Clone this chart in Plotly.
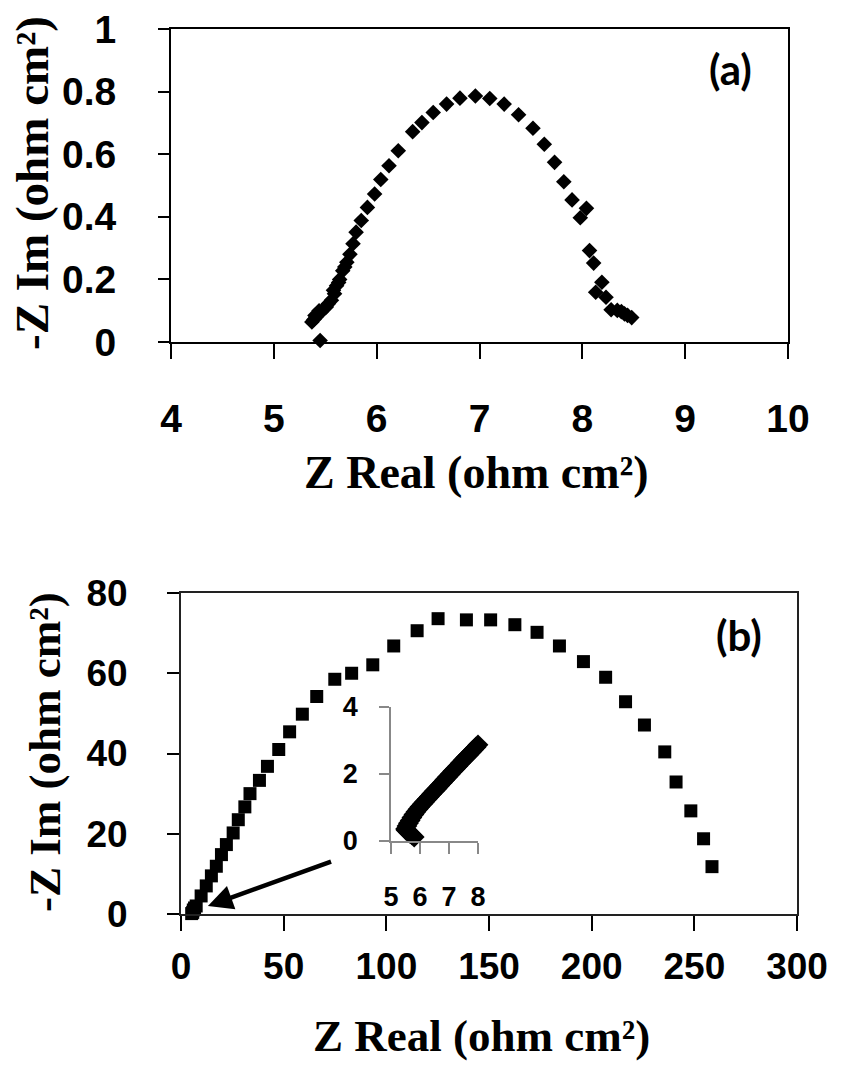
import plotly.graph_objects as go

# ---------------- Panel (a) data ----------------
a_zreal = [5.45, 5.37, 5.39, 5.40, 5.41, 5.43, 5.44, 5.46, 5.48, 5.51, 5.53, 5.56, 5.58,
           5.59, 5.61, 5.63, 5.64, 5.67, 5.69, 5.71, 5.74, 5.77, 5.80, 5.85, 5.91, 5.98,
           6.04, 6.12, 6.21, 6.35, 6.44, 6.55, 6.68, 6.81, 6.96, 7.10, 7.24, 7.38, 7.52,
           7.63, 7.73, 7.82, 7.90, 8.04, 7.98, 8.07, 8.11, 8.19, 8.13, 8.23, 8.28, 8.34,
           8.38, 8.41, 8.44, 8.48]
a_zim = [0.005, 0.064, 0.072, 0.085, 0.080, 0.088, 0.100, 0.096, 0.104, 0.112, 0.122, 0.133, 0.165,
         0.154, 0.180, 0.190, 0.200, 0.228, 0.240, 0.255, 0.280, 0.314, 0.351, 0.388, 0.430, 0.473,
         0.519, 0.563, 0.611, 0.672, 0.701, 0.733, 0.760, 0.779, 0.786, 0.778, 0.760, 0.726, 0.683,
         0.632, 0.574, 0.512, 0.454, 0.427, 0.397, 0.292, 0.252, 0.191, 0.159, 0.143, 0.103, 0.101,
         0.097, 0.090, 0.085, 0.078]

# ---------------- Panel (b) data ----------------
b_zreal = [5.2, 5.7, 6.0, 6.6, 7.4, 9.8, 12.3, 14.8, 17.2, 19.7, 22.1, 25.4, 27.9, 31.1, 33.6,
           38.2, 42.1, 47.6, 52.9, 59.1, 66.1, 74.9, 83.1, 93.4, 103.6, 115.0, 125.2, 139.0,
           150.8, 162.6, 173.4, 184.3, 196.0, 206.8, 216.5, 225.7, 235.6, 241.1, 248.3, 254.5,
           258.6]
b_zim = [0.1, 0.4, 1.0, 1.5, 2.0, 4.5, 7.0, 9.5, 11.9, 14.8, 17.3, 20.2, 23.5, 26.7, 30.0,
         33.3, 36.8, 41.0, 45.4, 49.8, 54.2, 58.5, 60.0, 62.1, 66.8, 70.6, 73.6, 73.3,
         73.3, 72.1, 70.2, 66.8, 62.9, 59.0, 52.9, 47.1, 40.4, 32.9, 25.7, 18.75,
         11.8]

# ---------------- Inset data (high-frequency region of b) ----------------
inset_zreal = [5.80, 5.72, 5.65, 5.58, 5.52, 5.50, 5.55, 5.60, 5.66, 5.72, 5.79, 5.86, 5.93,
               6.00, 6.08, 6.16, 6.24, 6.32, 6.41, 6.50, 6.59, 6.68, 6.77, 6.86, 6.95, 7.04,
               7.13, 7.22, 7.31, 7.40, 7.49, 7.58, 7.67, 7.76, 7.85, 7.93, 8.00]
inset_zim = [0.12, 0.18, 0.23, 0.28, 0.32, 0.36, 0.45, 0.53, 0.61, 0.70, 0.79, 0.87, 0.95,
             1.02, 1.10, 1.17, 1.25, 1.32, 1.41, 1.49, 1.57, 1.66, 1.74, 1.83, 1.91, 1.99,
             2.08, 2.16, 2.24, 2.33, 2.41, 2.49, 2.57, 2.65, 2.73, 2.80, 2.87]

a_xticks = [4, 5, 6, 7, 8, 9, 10]
a_yticks = [0, 0.2, 0.4, 0.6, 0.8, 1]
b_xticks = [0, 50, 100, 150, 200, 250, 300]
b_yticks = [0, 20, 40, 60, 80]
in_xticks = [5, 6, 7, 8]
in_yticks = [0, 2, 4]

W, H = 841, 1065
def px_x(p):
    return p / W
def px_y(p):
    return (H - p) / H

SANS = "Liberation Sans, Arial, sans-serif"
SERIF = "Liberation Serif, Times New Roman, serif"

fig = go.Figure()
fig.add_trace(go.Scatter(x=a_zreal, y=a_zim, mode="markers", xaxis="x", yaxis="y",
                         marker=dict(symbol="diamond", size=12, color="black"),
                         cliponaxis=False, showlegend=False))
fig.add_trace(go.Scatter(x=b_zreal, y=b_zim, mode="markers", xaxis="x2", yaxis="y2",
                         marker=dict(symbol="square", size=13, color="black"),
                         cliponaxis=False, showlegend=False))
fig.add_trace(go.Scatter(x=inset_zreal, y=inset_zim, mode="markers", xaxis="x3", yaxis="y3",
                         marker=dict(symbol="diamond", size=16, color="black"),
                         cliponaxis=False, showlegend=False))

main_tickfont_a = dict(family=SANS, size=39, color="black", weight="bold")
main_tickfont_b = dict(family=SANS, size=37, color="black", weight="bold")
inset_font = dict(family=SANS, size=27, color="black", weight="bold")

common = dict(showgrid=False, zeroline=False, automargin=False)

fig.update_layout(
    template="none",
    width=W, height=H,
    margin=dict(l=0, r=0, t=0, b=0, pad=0),
    paper_bgcolor="white", plot_bgcolor="white",
    xaxis=dict(domain=[px_x(171), px_x(788)], range=[4, 10], anchor="y",
               tickvals=a_xticks, ticks="outside", ticklen=15, tickwidth=2, tickcolor="black",
               showline=True, mirror=True, linecolor="black", linewidth=2,
               tickfont=main_tickfont_a, ticklabelstandoff=26, **common),
    yaxis=dict(domain=[px_y(342), px_y(29)], range=[0, 1], anchor="x",
               tickvals=a_yticks, ticks="outside", ticklen=11, tickwidth=2, tickcolor="black",
               showline=True, mirror=True, linecolor="black", linewidth=2,
               tickfont=main_tickfont_a, ticklabelstandoff=34, **common),
    xaxis2=dict(domain=[px_x(181), px_x(797)], range=[0, 300], anchor="y2",
                tickvals=b_xticks, ticks="outside", ticklen=15, tickwidth=2, tickcolor="black",
                showline=True, mirror=True, linecolor="#222", linewidth=2,
                tickfont=main_tickfont_b, ticklabelstandoff=4, **common),
    yaxis2=dict(domain=[px_y(914), px_y(593)], range=[0, 80], anchor="x2",
                tickvals=b_yticks, ticks="outside", ticklen=12, tickwidth=2, tickcolor="black",
                showline=True, mirror=True, linecolor="#222", linewidth=2,
                tickfont=main_tickfont_b, ticklabelstandoff=32, **common),
    xaxis3=dict(domain=[px_x(391), px_x(478)], range=[5, 8], anchor="y3",
                tickvals=in_xticks, ticks="outside", ticklen=11, tickwidth=1.5, tickcolor="#888",
                showline=True, mirror=False, linecolor="#888", linewidth=1.5,
                tickfont=inset_font, ticklabelstandoff=20, **common),
    yaxis3=dict(domain=[px_y(841), px_y(707)], range=[0, 4], anchor="x3",
                tickvals=in_yticks, ticks="outside", ticklen=10, tickwidth=1.5, tickcolor="#888",
                showline=True, mirror=False, linecolor="#888", linewidth=1.5,
                tickfont=inset_font, ticklabelstandoff=16, **common),
)

annotations = [
    # panel (a) titles
    dict(text="<b>Z Real (ohm cm²)</b>", x=px_x(477), y=px_y(472), xref="paper", yref="paper",
         showarrow=False, xanchor="center", yanchor="middle",
         font=dict(family=SERIF, size=46, color="black")),
    dict(text="<b>-Z Im (ohm cm²)</b>", x=px_x(32), y=px_y(183), xref="paper", yref="paper",
         showarrow=False, xanchor="center", yanchor="middle", textangle=-90,
         font=dict(family=SERIF, size=47, color="black")),
    dict(text="<b>(a)</b>", x=px_x(730), y=px_y(69), xref="paper", yref="paper",
         showarrow=False, xanchor="center", yanchor="middle",
         font=dict(family="Lato, Open Sans, sans-serif", size=42, color="black")),
    # panel (b) titles
    dict(text="<b>Z Real (ohm cm²)</b>", x=px_x(482), y=px_y(1036), xref="paper", yref="paper",
         showarrow=False, xanchor="center", yanchor="middle",
         font=dict(family=SERIF, size=45, color="black")),
    dict(text="<b>-Z Im (ohm cm²)</b>", x=px_x(45), y=px_y(752), xref="paper", yref="paper",
         showarrow=False, xanchor="center", yanchor="middle", textangle=-90,
         font=dict(family=SERIF, size=45, color="black")),
    dict(text="<b>(b)</b>", x=px_x(739), y=px_y(635), xref="paper", yref="paper",
         showarrow=False, xanchor="center", yanchor="middle",
         font=dict(family="Lato, Open Sans, sans-serif", size=42, color="black")),
    # arrow pointing from inset to the high-frequency region
    dict(x=13.1, y=2.0, xref="x2", yref="y2", ax=73.8, ay=13.2, axref="x2", ayref="y2",
         text="", showarrow=True, arrowhead=2, arrowsize=1.1, arrowwidth=4.5, arrowcolor="black"),
]
fig.update_layout(annotations=annotations)

fig.write_html("out.html")
